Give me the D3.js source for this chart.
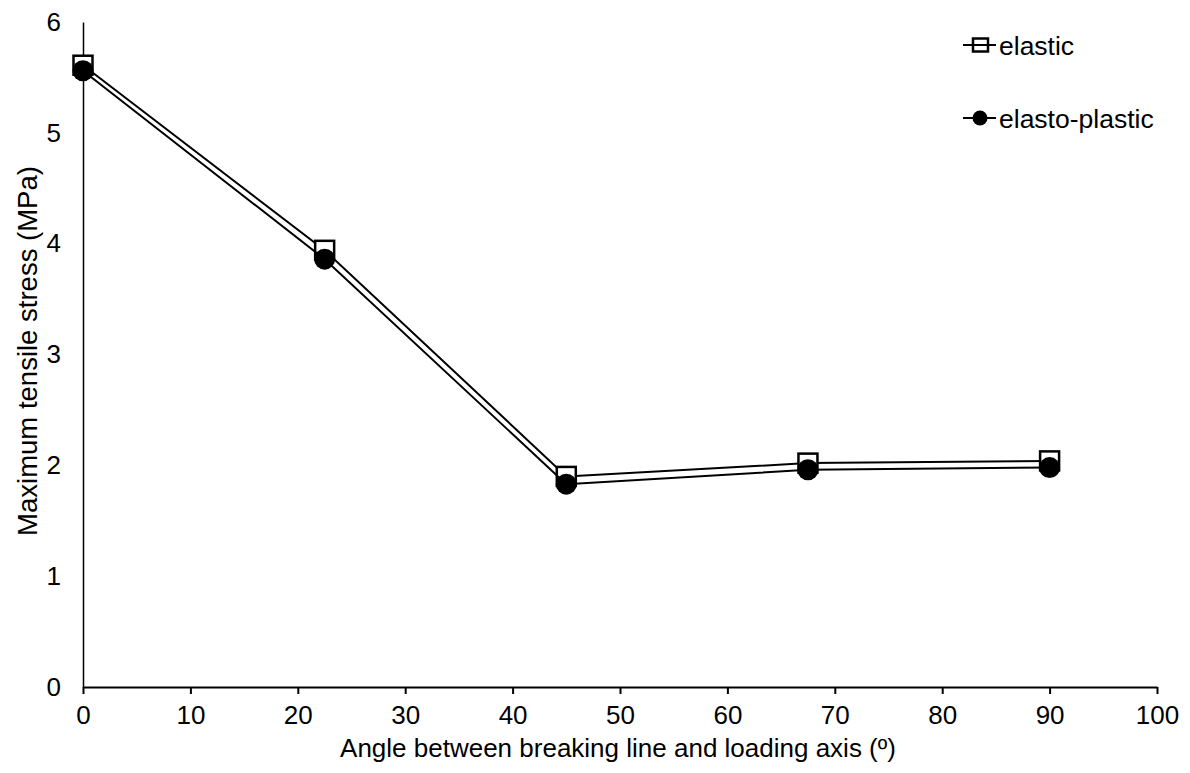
<!DOCTYPE html>
<html>
<head>
<meta charset="utf-8">
<script src="https://cdn.jsdelivr.net/npm/d3@7"></script>
<style>
  body { margin: 0; background: #fff; }
  text { font-family: "Liberation Sans", Arial, sans-serif; fill: #000; }
</style>
</head>
<body>
<svg id="chart" width="1190" height="773"></svg>
<script>
// data
const angles = [0, 22.5, 45, 67.5, 90];
const elastic = [5.61, 3.94, 1.90, 2.02, 2.04];
const elastoPlastic = [5.56, 3.86, 1.83, 1.96, 1.98];
const xTicks = [0, 10, 20, 30, 40, 50, 60, 70, 80, 90, 100];
const yTicks = [0, 1, 2, 3, 4, 5, 6];

const svg = d3.select("#chart");
const margin = { left: 83, right: 33, top: 22, bottom: 86 };
const width = 1190 - margin.left - margin.right,
  height = 773 - margin.top - margin.bottom;

const g = svg.append("g")
  .attr("transform", "translate(" + margin.left + "," + margin.top + ")");

const x = d3.scaleLinear().domain([0, 100]).range([0, width]);
const y = d3.scaleLinear().domain([0, 6]).range([height, 0]);

// x axis
const xAxis = g.append("g")
  .attr("transform", "translate(0," + height + ")")
  .call(d3.axisBottom(x).tickValues(xTicks).tickFormat(d3.format("d"))
    .tickSize(7).tickPadding(12).tickSizeOuter(0));
xAxis.attr("font-size", 26).attr("font-family", "Liberation Sans, Arial, sans-serif");
xAxis.select(".domain").attr("stroke", "#000").attr("stroke-width", 2);
xAxis.selectAll(".tick line").attr("stroke", "#000").attr("stroke-width", 2);

// y axis, no tick marks
const yAxis = g.append("g")
  .call(d3.axisLeft(y).tickValues(yTicks).tickFormat(d3.format("d"))
    .tickSize(0).tickPadding(22));
yAxis.attr("font-size", 26).attr("font-family", "Liberation Sans, Arial, sans-serif");
yAxis.select(".domain").attr("stroke", "#000").attr("stroke-width", 1.5);

// titles
svg.append("text")
  .attr("x", margin.left + width / 2 - 2)
  .attr("y", 757)
  .attr("text-anchor", "middle")
  .attr("font-size", 26)
  .text("Angle between breaking line and loading axis (º)");

svg.append("text")
  .attr("transform", "translate(37," + 351 + ")rotate(-90)")
  .attr("text-anchor", "middle")
  .attr("font-size", 27.5)
  .text("Maximum tensile stress (MPa)");

const line = d3.line()
  .x(d => x(d[0]))
  .y(d => y(d[1]));

const elasticPts = angles.map((a, i) => [a, elastic[i]]);
const plasticPts = angles.map((a, i) => [a, elastoPlastic[i]]);

// elastic
g.append("path").datum(elasticPts)
  .attr("d", line).attr("fill", "none").attr("stroke", "#000").attr("stroke-width", 2);
g.selectAll(".sq").data(elasticPts).enter().append("rect")
  .attr("class", "sq")
  .attr("x", d => x(d[0]) - 9.5).attr("y", d => y(d[1]) - 9.5)
  .attr("width", 19).attr("height", 19)
  .attr("fill", "#fff").attr("stroke", "#000").attr("stroke-width", 2.5);

// elasto-plastic
g.append("path").datum(plasticPts)
  .attr("d", line).attr("fill", "none").attr("stroke", "#000").attr("stroke-width", 2);
g.selectAll(".dot").data(plasticPts).enter().append("circle")
  .attr("class", "dot")
  .attr("cx", d => x(d[0])).attr("cy", d => y(d[1]))
  .attr("r", 10.5).attr("fill", "#000");

// legend
const legend = svg.append("g");
const items = [
  { name: "elastic", type: "square", y: 45 },
  { name: "elasto-plastic", type: "circle", y: 118 }
];
items.forEach(it => {
  const lg = legend.append("g").attr("transform", "translate(963," + it.y + ")");
  if (it.type === "square") {
    lg.append("rect").attr("x", 10).attr("y", -6.5).attr("width", 15).attr("height", 13)
      .attr("fill", "#fff").attr("stroke", "#000").attr("stroke-width", 2.5);
  } else {
    lg.append("circle").attr("cx", 17).attr("cy", 0).attr("r", 7.5).attr("fill", "#000");
  }
  lg.insert("line", it.type === "square" ? null : ":first-child")
    .attr("x1", 0).attr("x2", 33).attr("stroke", "#000").attr("stroke-width", 2);
  lg.append("text").attr("x", 36).attr("y", 10).attr("font-size", 26.5).text(it.name);
});
</script>
</body>
</html>
